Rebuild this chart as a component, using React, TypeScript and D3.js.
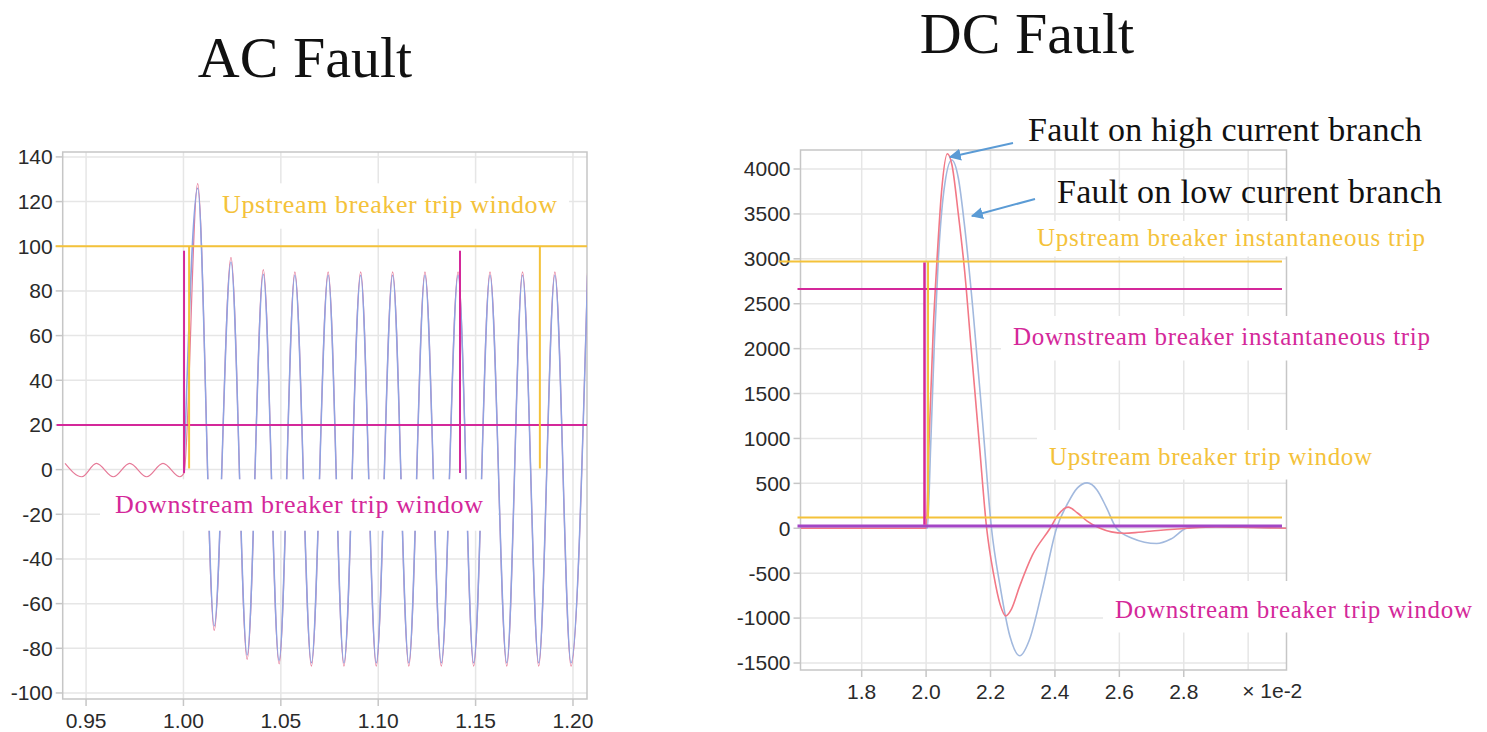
import React from 'react'
import * as d3 from 'd3'

// ---- data ----
// AC fault panel (time in s, current)
const acTicksX = [0.95, 1.0, 1.05, 1.1, 1.15, 1.2]
const acTicksY = [-100, -80, -60, -40, -20, 0, 20, 40, 60, 80, 100, 120, 140]
const acPreT = [0.9392, 0.9478, 0.9553, 0.964, 0.9724, 0.9811, 0.9895, 0.9982]
const acPreV = [2.8, -3.2, 2.8, -3.2, 2.8, -3.2, 2.8, -3.2]
const acOnsetT = 1.0003
const acPostT = [
	1.0073, 1.0158, 1.0244, 1.0327, 1.041, 1.0491, 1.0572, 1.0657, 1.0743, 1.0824, 1.091, 1.099,
	1.1074, 1.1157, 1.124, 1.1324, 1.141, 1.149, 1.1574, 1.166, 1.1741, 1.1824, 1.1907, 1.199, 1.2075,
]
const acRedV = [
	128, -72, 95, -85, 89.5, -87, 88.5, -88, 88.5, -88, 88.5, -88, 88.5, -88, 88.5, -88, 88.5, -88,
	88.5, -88, 88.5, -88, 88.5, -88, 88.5,
]
const acBlueV = [
	126, -70, 93, -83, 87.5, -85.5, 87, -86.5, 87, -86.5, 87, -86.5, 87, -86.5, 87, -86.5, 87, -86.5,
	87, -86.5, 87, -86.5, 87, -86.5, 87,
]
const acUpstreamLevel = 100
const acDownstreamLevel = 20
const acDownstreamTrips = [1.0003, 1.142]
const acDownstreamSpan = [-1.5, 98]
const acUpstreamTrips = [1.0029, 1.183]
const acUpstreamSpan = [0.5, 100]

// DC fault panel (time x 1e-2 s, current)
const dcTicksX = [1.8, 2.0, 2.2, 2.4, 2.6, 2.8]
const dcGridX = [1.8, 2.0, 2.2, 2.4, 2.6, 2.8, 3.0]
const dcTicksY = [-1500, -1000, -500, 0, 500, 1000, 1500, 2000, 2500, 3000, 3500, 4000]
const dcRedT = [
	1.61, 2.0, 2.01, 2.022, 2.034, 2.048, 2.066, 2.08, 2.1, 2.12, 2.14, 2.165, 2.188, 2.21, 2.23,
	2.247, 2.265, 2.29, 2.33, 2.385, 2.41, 2.441, 2.47, 2.5, 2.54, 2.575, 2.615, 2.66, 2.72, 2.81,
	2.9, 3.0, 3.119,
]
const dcRedV = [
	0, 0, 1050, 2200, 3000, 3750, 4170, 4050, 3500, 2850, 2000, 950, 0, -520, -850, -975, -900,
	-650, -300, 0, 150, 235, 170, 80, 0, -40, -55, -45, -25, 0, 15, 10, 0,
]
const dcBlueT = [
	1.61, 2.004, 2.014, 2.026, 2.038, 2.055, 2.0795, 2.1, 2.12, 2.145, 2.175, 2.203, 2.23, 2.26,
	2.291, 2.32, 2.36, 2.405, 2.44, 2.47, 2.5, 2.53, 2.56, 2.591, 2.64, 2.716, 2.76, 2.809, 2.87,
	2.95, 3.03, 3.119,
]
const dcBlueV = [
	0, 0, 900, 2100, 3000, 3750, 4100, 3900, 3350, 2450, 1200, 0, -650, -1200, -1420, -1250, -700,
	0, 280, 450, 505, 430, 230, 0, -110, -170, -120, 0, 25, 25, 10, 0,
]
const dcUpstreamInst = 2970
const dcDownstreamInst = 2664
const dcUpstreamWindow = 120
const dcDownstreamWindow = 25
const dcDownstreamTrip = 1.995
const dcDownstreamSpan = [40, 2960]
const dcUpstreamTrip = 2.006
const dcUpstreamSpan = [120, 2970]
const dcLineEnd = 3.105

// ---- layout / styles ----
const W = 1487
const H = 732
const AC = { left: 62.7, right: 587, top: 152, bottom: 699 }
const DC = { left: 800.5, right: 1286.5, top: 150, bottom: 670 }
const GOLD = '#f4c23a'
const MAGENTA = '#d4289a'
const PURPLE = '#a346c6'
const GRID = '#e6e6e6'
const FRAME = '#c6c6c6'
const SANS = '"Liberation Sans", Arial, sans-serif'
const SERIF = '"Liberation Serif", "Times New Roman", serif'

const labels = [
	{ text: 'Upstream breaker trip window', x: 222, y: 213, w: 335, fs: 26, color: GOLD, pad: [12, 12, 10] },
	{ text: 'Downstream breaker trip window', x: 115, y: 513, w: 368, fs: 26, color: MAGENTA, pad: [15, 16, 12] },
	{ text: 'Upstream breaker instantaneous trip', x: 1037, y: 246, w: 388, fs: 25, color: GOLD, pad: [8, 8, 5] },
	{ text: 'Downstream breaker instantaneous trip', x: 1013, y: 345, w: 417, fs: 25, color: MAGENTA, pad: [12, 12, 10] },
	{ text: 'Upstream breaker trip window', x: 1049, y: 465, w: 323, fs: 25, color: GOLD, pad: [12, 18, 9] },
	{ text: 'Downstream breaker trip window', x: 1115, y: 618, w: 357, fs: 25, color: MAGENTA, pad: [12, 20, 9] },
]

const notes = [
	{ text: 'Fault on high current branch', x: 1028, y: 141, w: 394, from: [1013, 143], to: [950, 157] },
	{ text: 'Fault on low current branch', x: 1057, y: 203, w: 385, from: [1035, 199], to: [972, 216] },
]

type Box = { left: number; right: number; top: number; bottom: number }

function Frame({
	box,
	x,
	y,
	gridX,
	ticksX,
	ticksY,
	fmtX,
}: {
	box: Box
	x: d3.ScaleLinear<number, number>
	y: d3.ScaleLinear<number, number>
	gridX: number[]
	ticksX: number[]
	ticksY: number[]
	fmtX: (v: number) => string
}) {
	return (
		<g>
			{gridX.map((t) => (
				<line key={'gx' + t} x1={x(t)} x2={x(t)} y1={box.top} y2={box.bottom} stroke={GRID} strokeWidth={1.5} />
			))}
			{ticksY.map((v) => (
				<line key={'gy' + v} x1={box.left} x2={box.right} y1={y(v)} y2={y(v)} stroke={GRID} strokeWidth={1.5} />
			))}
			<rect
				x={box.left}
				y={box.top}
				width={box.right - box.left}
				height={box.bottom - box.top}
				fill="none"
				stroke={FRAME}
				strokeWidth={1.5}
			/>
			{ticksY.map((v) => (
				<g key={'ty' + v}>
					<line x1={box.left - 7} x2={box.left} y1={y(v)} y2={y(v)} stroke={FRAME} strokeWidth={1.5} />
					<text x={box.left - 10} y={y(v)} dy="0.35em" textAnchor="end" fontFamily={SANS} fontSize={21} fill="#2a2a2a">
						{String(v)}
					</text>
				</g>
			))}
			{ticksX.map((t) => (
				<g key={'tx' + t}>
					<line x1={x(t)} x2={x(t)} y1={box.bottom} y2={box.bottom + 7} stroke={FRAME} strokeWidth={1.5} />
					<text x={x(t)} y={box.bottom + 29} textAnchor="middle" fontFamily={SANS} fontSize={21} fill="#2a2a2a">
						{fmtX(t)}
					</text>
				</g>
			))}
		</g>
	)
}

export default function App() {
	const acX = d3.scaleLinear().domain([0.938, 1.2072]).range([AC.left, AC.right])
	const acY = d3.scaleLinear().domain([-102.7, 142.2]).range([AC.bottom, AC.top])
	const dcX = d3.scaleLinear().domain([1.61, 3.119]).range([DC.left, DC.right])
	const dcY = d3.scaleLinear().domain([-1578, 4211.5]).range([DC.bottom, DC.top])

	const acLine = d3
		.line<number[]>()
		.x((d) => acX(d[0]))
		.y((d) => acY(d[1]))
		.curve(d3.curveMonotoneX)
	const dcLine = d3
		.line<number[]>()
		.x((d) => dcX(d[0]))
		.y((d) => dcY(d[1]))
		.curve(d3.curveMonotoneX)

	const acRed = acLine(d3.zip([...acPreT, acOnsetT, ...acPostT], [...acPreV, -1.5, ...acRedV])) || ''
	const acBlue = acLine(d3.zip([acOnsetT, ...acPostT], [0, ...acBlueV])) || ''
	const dcRed = dcLine(d3.zip(dcRedT, dcRedV)) || ''
	const dcBlue = dcLine(d3.zip(dcBlueT, dcBlueV)) || ''

	return (
		<svg width={W} height={H} style={{ position: 'absolute', left: 0, top: 0, background: '#fff' }}>
			<defs>
				<clipPath id="acClip">
					<rect x={AC.left} y={AC.top} width={AC.right - AC.left} height={AC.bottom - AC.top} />
				</clipPath>
				<clipPath id="dcClip">
					<rect x={DC.left} y={DC.top} width={DC.right - DC.left} height={DC.bottom - DC.top} />
				</clipPath>
				<marker id="arrow" viewBox="0 0 10 10" refX="9" refY="5" markerWidth="6" markerHeight="6" orient="auto">
					<path d="M0,0 L10,5 L0,10 z" fill="#5b9bd5" />
				</marker>
			</defs>

			<text x={305} y={77} textAnchor="middle" fontFamily={SERIF} fontSize={58} fill="#111">
				AC Fault
			</text>
			<text x={1027} y={53} textAnchor="middle" fontFamily={SERIF} fontSize={58} fill="#111">
				DC Fault
			</text>

			<Frame box={AC} x={acX} y={acY} gridX={acTicksX} ticksX={acTicksX} ticksY={acTicksY} fmtX={d3.format('.2f')} />
			<Frame box={DC} x={dcX} y={dcY} gridX={dcGridX} ticksX={dcTicksX} ticksY={dcTicksY} fmtX={d3.format('.1f')} />
			<text x={dcX(3.0) - 6} y={DC.bottom + 28} fontFamily={SANS} fontSize={21} fill="#2a2a2a">
				× 1e-2
			</text>

			<g clipPath="url(#acClip)" fill="none">
				<path d={acRed} stroke="#e67a98" strokeWidth={1.2} />
				<path d={acBlue} stroke="#8fa2e2" strokeWidth={1.5} />
			</g>
			<g clipPath="url(#dcClip)" fill="none">
				<path d={dcBlue} stroke="#a2b9de" strokeWidth={1.6} />
				<path d={dcRed} stroke="#f27886" strokeWidth={1.6} />
			</g>

			{labels.map((l, i) => (
				<rect
					key={'box' + i}
					x={l.x - l.pad[0]}
					y={l.y - 0.68 * l.fs - l.pad[1]}
					width={l.w + 2 * l.pad[0]}
					height={0.9 * l.fs + l.pad[1] + l.pad[2]}
					fill="#fff"
				/>
			))}

			{/* AC trip windows */}
			<line x1={AC.left - 7} x2={AC.right} y1={acY(acUpstreamLevel)} y2={acY(acUpstreamLevel)} stroke={GOLD} strokeWidth={2} />
			<line x1={AC.left - 6} x2={AC.right} y1={acY(acDownstreamLevel)} y2={acY(acDownstreamLevel)} stroke={MAGENTA} strokeWidth={2} />
			{acDownstreamTrips.map((t) => (
				<line key={'am' + t} x1={acX(t)} x2={acX(t)} y1={acY(acDownstreamSpan[0])} y2={acY(acDownstreamSpan[1])} stroke={MAGENTA} strokeWidth={2} />
			))}
			{acUpstreamTrips.map((t) => (
				<line key={'au' + t} x1={acX(t)} x2={acX(t)} y1={acY(acUpstreamSpan[0])} y2={acY(acUpstreamSpan[1])} stroke={GOLD} strokeWidth={2} />
			))}

			{/* DC trip levels */}
			<line x1={DC.left - 22} x2={dcX(dcLineEnd)} y1={dcY(dcUpstreamInst)} y2={dcY(dcUpstreamInst)} stroke={GOLD} strokeWidth={2} />
			<line x1={DC.left - 3} x2={dcX(dcLineEnd)} y1={dcY(dcDownstreamInst)} y2={dcY(dcDownstreamInst)} stroke={MAGENTA} strokeWidth={2} />
			<line x1={DC.left - 3} x2={dcX(dcLineEnd)} y1={dcY(dcUpstreamWindow)} y2={dcY(dcUpstreamWindow)} stroke={GOLD} strokeWidth={2} />
			<line x1={DC.left - 3} x2={dcX(dcLineEnd)} y1={dcY(dcDownstreamWindow)} y2={dcY(dcDownstreamWindow)} stroke={PURPLE} strokeWidth={3} />
			<line x1={dcX(dcDownstreamTrip)} x2={dcX(dcDownstreamTrip)} y1={dcY(dcDownstreamSpan[0])} y2={dcY(dcDownstreamSpan[1])} stroke={MAGENTA} strokeWidth={2.5} />
			<line x1={dcX(dcUpstreamTrip)} x2={dcX(dcUpstreamTrip)} y1={dcY(dcUpstreamSpan[0])} y2={dcY(dcUpstreamSpan[1])} stroke={GOLD} strokeWidth={2} />

			{labels.map((l, i) => (
				<text
					key={'lab' + i}
					x={l.x}
					y={l.y}
					fontFamily={SERIF}
					fontSize={l.fs}
					fill={l.color}
					textLength={l.w}
					lengthAdjust="spacing"
				>
					{l.text}
				</text>
			))}

			{notes.map((n, i) => (
				<g key={'note' + i}>
					<text x={n.x} y={n.y} fontFamily={SERIF} fontSize={34} fill="#111" textLength={n.w} lengthAdjust="spacing">
						{n.text}
					</text>
					<line
						x1={n.from[0]}
						y1={n.from[1]}
						x2={n.to[0]}
						y2={n.to[1]}
						stroke="#5b9bd5"
						strokeWidth={2}
						markerEnd="url(#arrow)"
					/>
				</g>
			))}
		</svg>
	)
}
